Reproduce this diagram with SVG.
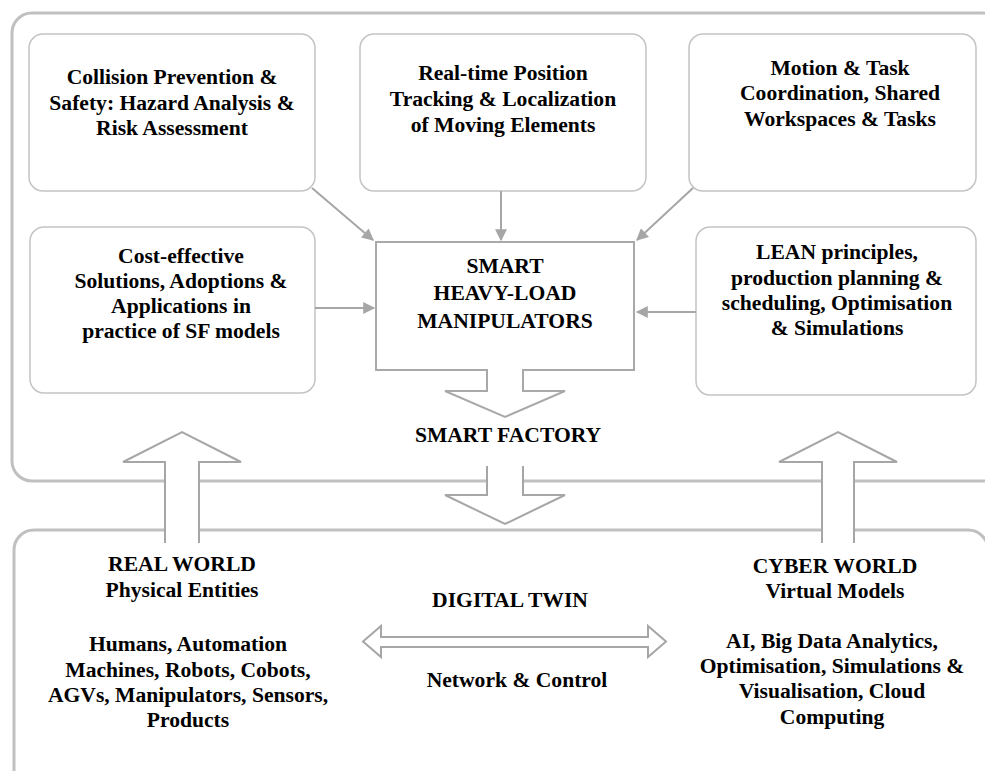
<svg xmlns="http://www.w3.org/2000/svg" width="985" height="771" viewBox="0 0 985 771">
<defs>
<style>
.outer{fill:none;stroke:#c0c0c0;stroke-width:3}
.box{fill:#fff;stroke:#c4c4c4;stroke-width:1.5}
.big{fill:#fff;stroke:#a9a9a9;stroke-width:2}
.conn{fill:none;stroke:#a6a6a6;stroke-width:2}
.t{font-family:"Liberation Serif","Times New Roman",serif;font-weight:bold;font-size:21.6px;fill:#000;text-anchor:middle}
</style>
<marker id="ah" viewBox="0 0 10 10" refX="9" refY="5" markerWidth="13" markerHeight="12" markerUnits="userSpaceOnUse" orient="auto">
<path d="M0,0 L10,5 L0,10 Z" fill="#a6a6a6"/>
</marker>
</defs>
<rect width="985" height="771" fill="#fff"/>
<g id="smart-factory-frame"><rect class="outer" x="12" y="13" width="990" height="468" rx="20"/></g>
<g id="digital-twin-frame"><rect class="outer" x="14" y="530" width="974" height="260" rx="20"/></g>

<g id="collision"><rect class="box" x="29" y="34" width="286" height="157" rx="14"/>
<text class="t" x="172" y="84">Collision Prevention &amp;</text>
<text class="t" x="172" y="110">Safety: Hazard Analysis &amp;</text>
<text class="t" x="172" y="135">Risk Assessment</text></g>

<g id="tracking"><rect class="box" x="360" y="34" width="286" height="157" rx="14"/>
<text class="t" x="503" y="80">Real-time Position</text>
<text class="t" x="503" y="106">Tracking &amp; Localization</text>
<text class="t" x="503" y="132">of Moving Elements</text></g>

<g id="motion"><rect class="box" x="689" y="34" width="287" height="157" rx="14"/>
<text class="t" x="840" y="75">Motion &amp; Task</text>
<text class="t" x="840" y="100">Coordination, Shared</text>
<text class="t" x="840" y="126">Workspaces &amp; Tasks</text></g>

<g id="cost"><rect class="box" x="30" y="227" width="285" height="166" rx="14"/>
<text class="t" x="181" y="263">Cost-effective</text>
<text class="t" x="181" y="288">Solutions, Adoptions &amp;</text>
<text class="t" x="181" y="313">Applications in</text>
<text class="t" x="181" y="338">practice of SF models</text></g>

<g id="lean"><rect class="box" x="696" y="227" width="280" height="168" rx="14"/>
<text class="t" x="837" y="259">LEAN principles,</text>
<text class="t" x="837" y="285">production planning &amp;</text>
<text class="t" x="837" y="310">scheduling, Optimisation</text>
<text class="t" x="837" y="335">&amp; Simulations</text></g>

<g id="manipulators">
<path class="big" d="M376,242 H634 V370 H523 V391 H565 L505,417 L445,391 H487 V370 H376 Z"/>
<text class="t" x="505" y="273">SMART</text>
<text class="t" x="505" y="300">HEAVY-LOAD</text>
<text class="t" x="505" y="328">MANIPULATORS</text>
<text class="t" x="508" y="442">SMART FACTORY</text>
</g>

<g id="down-arrow">
<path d="M487,466 H523 V495 H565 L505,524 L445,495 H487 Z" fill="#fff"/>
<path class="conn" d="M487,466 V495 H445 L505,524 L565,495 H523 V466"/>
</g>

<g id="up-arrow-real">
<path d="M165,543 V462 H123 L182,432 L241,462 H199 V543 Z" fill="#fff"/>
<path class="conn" d="M165,543 V462 H123 L182,432 L241,462 H199 V543"/>
</g>
<g id="up-arrow-cyber">
<path d="M822,543 V462 H779 L838,432 L897,462 H854 V543 Z" fill="#fff"/>
<path class="conn" d="M822,543 V462 H779 L838,432 L897,462 H854 V543"/>
</g>

<g id="real-world">
<text class="t" x="182" y="571">REAL WORLD</text>
<text class="t" x="182" y="597">Physical Entities</text>
<text class="t" x="188" y="651">Humans, Automation</text>
<text class="t" x="188" y="677">Machines, Robots, Cobots,</text>
<text class="t" x="188" y="702">AGVs, Manipulators, Sensors,</text>
<text class="t" x="188" y="727">Products</text>
</g>

<g id="digital-twin">
<text class="t" x="510" y="607">DIGITAL TWIN</text>
<path class="conn" d="M363,641.5 L381,626 V637 H648 V626 L666,641.5 L648,657 V647 H381 V657 Z" fill="#fff"/>
<text class="t" x="517" y="687">Network &amp; Control</text>
</g>

<g id="cyber-world">
<text class="t" x="835" y="573">CYBER WORLD</text>
<text class="t" x="835" y="598">Virtual Models</text>
<text class="t" x="832" y="648">AI, Big Data Analytics,</text>
<text class="t" x="832" y="673">Optimisation, Simulations &amp;</text>
<text class="t" x="832" y="698">Visualisation, Cloud</text>
<text class="t" x="832" y="724">Computing</text>
</g>

<g id="connectors">
<line class="conn" x1="312" y1="188" x2="373" y2="240" marker-end="url(#ah)"/>
<line class="conn" x1="501" y1="191" x2="501" y2="240" marker-end="url(#ah)"/>
<line class="conn" x1="693" y1="188" x2="637" y2="240" marker-end="url(#ah)"/>
<line class="conn" x1="315" y1="308" x2="374" y2="308" marker-end="url(#ah)"/>
<line class="conn" x1="696" y1="312" x2="637" y2="312" marker-end="url(#ah)"/>
</g>
</svg>
